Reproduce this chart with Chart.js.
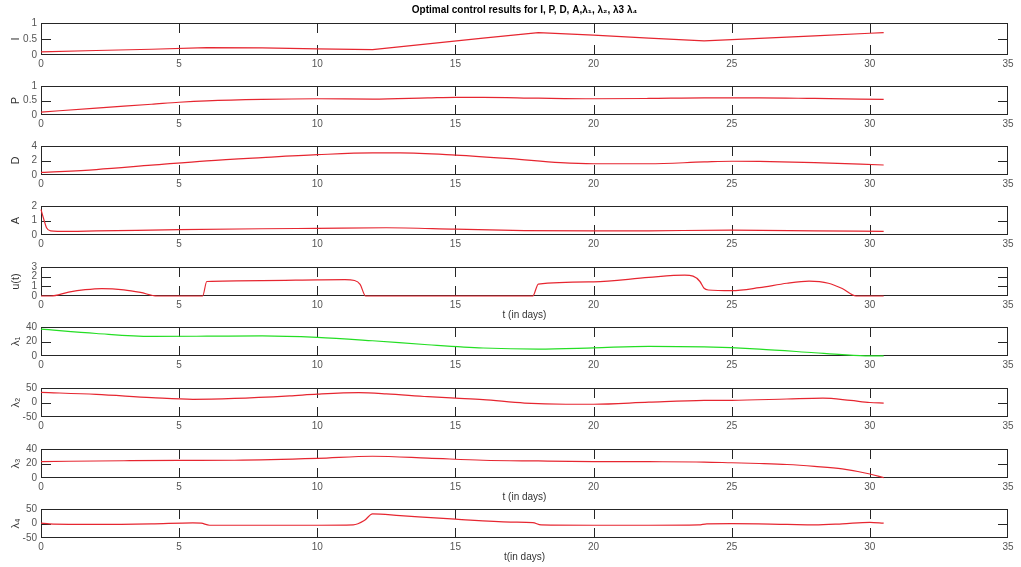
<!DOCTYPE html>
<html>
<head>
<meta charset="utf-8">
<script src="https://cdn.jsdelivr.net/npm/chart.js@4"></script>
<style>
  body { margin: 0; background: #fff; }
  #fig { position: relative; width: 1021px; height: 567px; }
  #fig canvas { position: absolute; left: 0; }
</style>
</head>
<body>
<div id="fig"></div>
<script>
// values, t in days
const tI   = [0, 2, 4, 6, 8, 10, 12, 14, 16, 18, 20, 22, 24, 26, 28, 30, 30.5];
const valI = [0.10, 0.14, 0.18, 0.23, 0.22, 0.19, 0.17, 0.35, 0.53, 0.70, 0.62, 0.53, 0.44, 0.52, 0.60, 0.68, 0.70];

const tP   = [0, 2, 4, 5, 6, 8, 10, 12, 14, 15, 16, 18, 20, 22, 24, 26, 28, 30.5];
const valP = [0.10, 0.24, 0.37, 0.44, 0.49, 0.54, 0.56, 0.55, 0.59, 0.61, 0.61, 0.58, 0.56, 0.57, 0.59, 0.59, 0.57, 0.54];

const tD   = [0, 2, 4, 6, 8, 10, 12, 13, 15, 17, 18.8, 20, 22, 24, 25, 26, 28, 30.5];
const valD = [0.35, 0.75, 1.35, 1.95, 2.4, 2.8, 3.05, 3.05, 2.75, 2.25, 1.7, 1.55, 1.55, 1.8, 1.9, 1.88, 1.7, 1.38];

const tA   = [0, 0.1, 0.2, 0.35, 0.6, 2, 5, 8, 10, 12.5, 15, 17.5, 20, 22, 25, 28, 30.5];
const valA = [1.75, 1.1, 0.5, 0.28, 0.25, 0.28, 0.37, 0.43, 0.46, 0.5, 0.4, 0.3, 0.28, 0.29, 0.33, 0.29, 0.25];

const tU   = [0, 0.35, 1, 1.6, 2.2, 3, 3.6, 4.2, 5.85, 6.0, 8, 10, 11, 11.35, 11.55, 11.75,
              17.8, 18.0, 20, 22, 23.3, 23.6, 23.85, 24.0, 24.15, 25, 26, 27, 27.8, 28.5, 29, 29.5, 30.5];
const valU = [0, 0, 0.4, 0.65, 0.77, 0.64, 0.37, 0, 0, 1.5, 1.6, 1.67, 1.69, 1.6, 1.2, 0,
              0, 1.23, 1.47, 1.93, 2.15, 2.05, 1.5, 0.8, 0.62, 0.55, 0.86, 1.32, 1.53, 1.32, 0.77, 0, 0];

const tL1   = [0, 2, 4, 6, 8, 10, 12, 14, 16, 18, 20, 22, 24, 26, 28, 29, 30, 30.5];
const valL1 = [37, 31, 27, 27.3, 27.8, 25.7, 21, 15.5, 11, 9.5, 11.2, 13.3, 12.5, 9.5, 4.5, 2, 0.3, 0.2];

const tL2   = [0, 2, 4, 5.5, 7, 9, 10, 11.5, 12.5, 14, 15, 16, 17.5, 19, 20, 22, 24, 25, 27, 28.3, 29.3, 30, 30.5];
const valL2 = [35, 28, 17, 11, 14, 23, 29, 34, 30, 20, 15, 10, -2, -6, -6, 1, 7, 7.5, 12, 15, 7, 0, -2];

const tL3   = [0, 3, 5, 7, 10, 12, 14, 16, 18, 20, 22, 24, 25, 26, 27, 28, 29, 30, 30.5];
const valL3 = [22.7, 23.8, 24.3, 24.5, 27, 30, 27.5, 24.5, 23.5, 22.7, 22.5, 22, 21, 20, 18.6, 16, 12.5, 5.5, 0.5];

const tL4   = [0, 0.3, 2, 4, 5.5, 5.8, 6.1, 8, 10, 11.3, 11.7, 12, 13, 15, 17, 17.8, 18.1,
               20, 22, 23.8, 24.1, 25, 27, 28, 29, 30, 30.5];
const valL4 = [1, -1, -3, -1, 2.5, 1, -6, -6, -6, -5, 10, 33, 27, 15, 5, 3, -5,
               -6, -6, -5, -1, -0.5, -3, -4.5, -1, 4, 1];

const mainTitle = 'Optimal control results for I, P, D, A,λ₁, λ₂, λ3 λ₄';

const RED = 'rgb(230,38,48)';
const GREEN = 'rgb(36,222,36)';
const BOX_COLOR = '#262626';
const TICK_COLOR = '#555';
const FONT = '"Liberation Sans", Arial, "DejaVu Sans", sans-serif';

const panels = [
  { name: 'I',    t: tI,  v: valI,  min: 0,   max: 1,  step: 0.5, color: RED, straight: true },
  { name: 'P',    t: tP,  v: valP,  min: 0,   max: 1,  step: 0.5, color: RED },
  { name: 'D',    t: tD,  v: valD,  min: 0,   max: 4,  step: 2,   color: RED },
  { name: 'A',    t: tA,  v: valA,  min: 0,   max: 2,  step: 1,   color: RED },
  { name: 'u(t)', t: tU,  v: valU,  min: 0,   max: 3,  step: 1,   color: RED, xTitle: 't (in days)' },
  { name: 'λ₁',   t: tL1, v: valL1, min: 0,   max: 40, step: 20,  color: GREEN },
  { name: 'λ₂',   t: tL2, v: valL2, min: -50, max: 50, step: 50,  color: RED },
  { name: 'λ₃',   t: tL3, v: valL3, min: 0,   max: 40, step: 20,  color: RED, xTitle: 't (in days)' },
  { name: 'λ₄',   t: tL4, v: valL4, min: -50, max: 50, step: 50,  color: RED, xTitle: 't(in days)' }
];

// layout of the stacked axes
const boxTops = [23, 83, 143, 203, 264, 324, 385, 446, 506];
const BOX_H = 32, PAD_TOP = 7, X_AXIS_H = 28, Y_AXIS_W = 41, RIGHT_PAD = 13, TICK_LEN = 10;

// matlab-like box with inward ticks
const matlabAxes = {
  id: 'matlabAxes',
  beforeDatasetsDraw(chart) {
    const { ctx, chartArea: a, scales: { x, y } } = chart;
    ctx.save();
    ctx.strokeStyle = BOX_COLOR;
    ctx.lineWidth = 1;
    ctx.beginPath();
    x.ticks.forEach(t => {
      const px = Math.round(x.getPixelForValue(t.value)) + 0.5;
      if (px < a.left + 2 || px > a.right - 2) return;
      ctx.moveTo(px, a.top); ctx.lineTo(px, a.top + TICK_LEN);
      ctx.moveTo(px, a.bottom); ctx.lineTo(px, a.bottom - TICK_LEN);
    });
    y.ticks.forEach(t => {
      const py = Math.round(y.getPixelForValue(t.value)) + 0.5;
      if (py < a.top + 2 || py > a.bottom - 2) return;
      ctx.moveTo(a.left, py); ctx.lineTo(a.left + TICK_LEN, py);
      ctx.moveTo(a.right, py); ctx.lineTo(a.right - TICK_LEN, py);
    });
    ctx.stroke();
    ctx.strokeRect(a.left + 0.5, a.top + 0.5, a.right - a.left - 1, a.bottom - a.top - 1);
    ctx.restore();
  }
};

const fig = document.getElementById('fig');

panels.forEach((p, i) => {
  const first = i === 0;
  const canvas = document.createElement('canvas');
  const padTop = first ? 0 : PAD_TOP;
  const topArea = first ? boxTops[0] : PAD_TOP;
  canvas.width = 1021;
  canvas.height = topArea + BOX_H + X_AXIS_H;
  canvas.style.top = (first ? 0 : boxTops[i] - PAD_TOP) + 'px';
  fig.appendChild(canvas);

  new Chart(canvas, {
    type: 'line',
    data: {
      datasets: [{
        data: p.t.map((t, k) => ({ x: t, y: p.v[k] })),
        borderColor: p.color,
        borderWidth: 1.2,
        pointRadius: 0,
        fill: false,
        clip: 3,
        tension: 0,
        cubicInterpolationMode: p.straight ? 'default' : 'monotone'
      }]
    },
    options: {
      responsive: false,
      animation: false,
      events: [],
      layout: { padding: { top: padTop, right: RIGHT_PAD, left: 0, bottom: 0 } },
      plugins: {
        legend: { display: false },
        tooltip: { enabled: false },
        title: {
          display: first,
          text: mainTitle,
          fullSize: false,
          color: '#000',
          font: { size: 10, weight: 'bold', family: FONT, lineHeight: 1.2 },
          padding: { top: 4, bottom: 7 }
        }
      },
      scales: {
        x: {
          type: 'linear',
          min: 0,
          max: 35,
          afterFit: s => { s.height = X_AXIS_H; },
          grid: { display: false, drawTicks: false },
          border: { display: false },
          ticks: {
            stepSize: 5, padding: 3, autoSkip: false, maxRotation: 0,
            color: TICK_COLOR, font: { size: 10, family: FONT }
          },
          title: {
            display: !!p.xTitle,
            text: p.xTitle || '',
            color: '#333',
            font: { size: 10, family: FONT, lineHeight: 1.2 },
            padding: { top: 0, bottom: 3 }
          }
        },
        y: {
          type: 'linear',
          min: p.min,
          max: p.max,
          afterFit: s => { s.width = Y_AXIS_W; },
          grid: { display: false, drawTicks: false },
          border: { display: false },
          ticks: {
            stepSize: p.step, padding: 4, autoSkip: false,
            color: TICK_COLOR, font: { size: 10, family: FONT },
            callback: v => String(+v.toFixed(2))
          },
          title: {
            display: true,
            text: p.name,
            color: '#333',
            font: { size: 11, family: FONT, lineHeight: 1.2 },
            padding: { top: 9, bottom: 0 }
          }
        }
      }
    },
    plugins: [matlabAxes]
  });
});
</script>
</body>
</html>
